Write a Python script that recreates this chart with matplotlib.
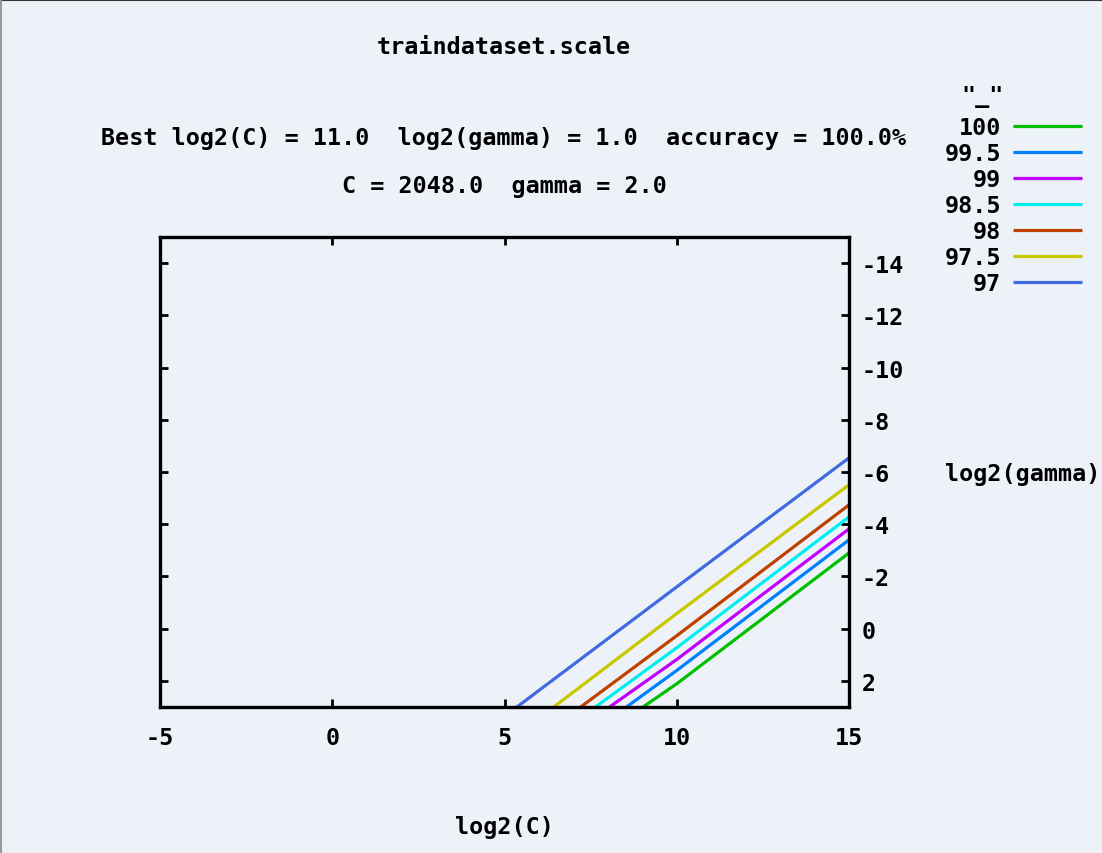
import matplotlib
matplotlib.use("Agg")
import matplotlib.pyplot as plt
from matplotlib.lines import Line2D

# contour levels (accuracy %) and the curves
levels = ["100", "99.5", "99", "98.5", "98", "97.5", "97"]
colors = ["#00c000", "#0080ff", "#c000ff", "#00eeee", "#c04000", "#c8c800", "#4169e1"]
log2c_pts = [
    [9.02, 10.0, 15.0],
    [8.54, 10.0, 15.0],
    [8.05, 10.0, 15.0],
    [7.64, 10.0, 15.0],
    [7.21, 10.0, 15.0],
    [6.43, 10.0, 15.0],
    [5.36, 10.0, 15.0],
]
log2g_pts = [
    [3.0, 2.11, -2.90],
    [3.0, 1.60, -3.40],
    [3.0, 1.18, -3.82],
    [3.0, 0.73, -4.28],
    [3.0, 0.27, -4.74],
    [3.0, -0.58, -5.51],
    [3.0, -1.60, -6.54],
]
xticks = [-5, 0, 5, 10, 15]
yticks = [-14, -12, -10, -8, -6, -4, -2, 0, 2]

bg = "#edf2f9"
font = "DejaVu Sans Mono"
fs = 16.8

fig = plt.figure(figsize=(11.02, 8.54), dpi=100)
fig.patch.set_facecolor(bg)
ax = fig.add_axes([160/1102, 1-708/854, (849-160)/1102, (708-238)/854])
ax.set_facecolor(bg)

for xs, ys, c, lab in zip(log2c_pts, log2g_pts, colors, levels):
    ax.plot(xs, ys, color=c, lw=2.3, label=lab, solid_capstyle="butt")

ax.set_xlim(-5, 15)
ax.set_ylim(3, -15)
ax.set_xticks(xticks)
ax.set_yticks(yticks)
ax.set_xticklabels([str(v) for v in xticks])
ax.set_yticklabels([str(v) for v in yticks])
ax.tick_params(direction="in", length=6, width=2, top=True, right=True,
               labelleft=False, labelright=True, labelsize=fs)
ax.tick_params(axis="x", pad=13.5)
ax.tick_params(axis="y", pad=9)
for t in ax.get_xticklabels() + ax.get_yticklabels():
    t.set_fontfamily(font)
    t.set_fontweight("bold")
for s in ax.spines.values():
    s.set_linewidth(2.4)

kw = dict(fontfamily=font, fontweight="bold", fontsize=fs)
fig.text(504/1102, 1-47/854, "traindataset.scale", ha="center", va="center", **kw)
fig.text(504/1102, 1-138/854, "Best log2(C) = 11.0  log2(gamma) = 1.0  accuracy = 100.0%",
         ha="center", va="center", **kw)
fig.text(504/1102, 1-186/854, "C = 2048.0  gamma = 2.0", ha="center", va="center", **kw)
fig.text(504/1102, 1-828/854, "log2(C)", ha="center", va="center", **kw)
fig.text(945/1102, 1-475/854, "log2(gamma)", ha="left", va="center", **kw)
fig.text(983/1102, 1-97/854, '"_"', ha="center", va="center", **kw)

leg = ax.legend(loc="upper right", bbox_to_anchor=(1082/1102, 1-117/854),
                bbox_transform=fig.transFigure, frameon=False, markerfirst=False,
                handlelength=2.95, handletextpad=0.5, labelspacing=0.13,
                borderpad=0, borderaxespad=0,
                prop=dict(family=font, weight="bold", size=fs))

# thin frame around the image
fig.add_artist(Line2D([0, 1], [0.999, 0.999], color="#333333", lw=1.5, transform=fig.transFigure))
fig.add_artist(Line2D([0.001, 0.001], [0, 1], color="#999999", lw=1.5, transform=fig.transFigure))

fig.savefig("out.png", dpi=100, facecolor=bg)
